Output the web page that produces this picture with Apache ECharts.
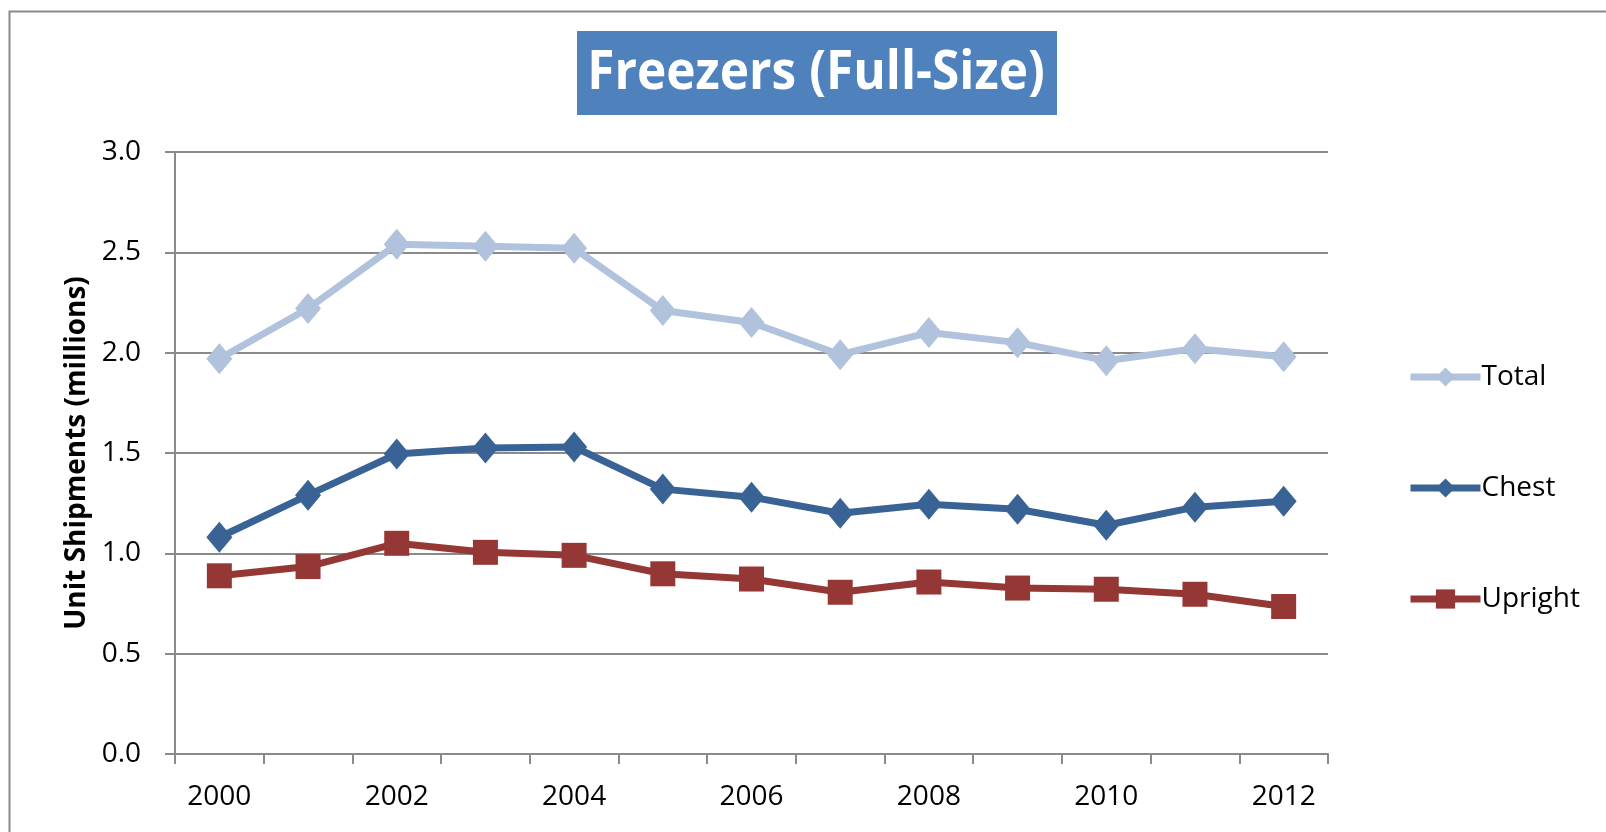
<!DOCTYPE html>
<html>
<head>
<meta charset="utf-8">
<script src="https://cdn.jsdelivr.net/npm/echarts@6/dist/echarts.min.js"></script>
<style>
  html, body { margin: 0; padding: 0; background: #fff; }
  #chart { width: 1606px; height: 832px; }
</style>
</head>
<body>
<div id="chart"></div>
<script>
// data (millions of units)
const years = ["2000", "2001", "2002", "2003", "2004", "2005", "2006",
  "2007", "2008", "2009", "2010", "2011", "2012"];
const total = [1.97, 2.22, 2.54, 2.53, 2.52, 2.21, 2.15, 1.99, 2.10, 2.05, 1.96, 2.02, 1.98];
const chest = [1.08, 1.29, 1.495, 1.525, 1.53, 1.32, 1.28, 1.20, 1.245, 1.22, 1.14, 1.23, 1.26];
const upright = [0.888, 0.934, 1.05, 1.005, 0.99, 0.898, 0.872, 0.806, 0.857, 0.827, 0.821, 0.796, 0.735];
const yTicks = [0, 0.5, 1.0, 1.5, 2.0, 2.5, 3.0];

const chart = echarts.init(document.getElementById("chart"));
const gray = "#8a8a8a";
const font = "'Open Sans', sans-serif";

const option = {
  animation: false,
  backgroundColor: "#fff",
  graphic: [
    {
      type: "rect",
      shape: { x: 9.5, y: 11.5, width: 1700, height: 900 },
      style: { fill: "none", stroke: gray, lineWidth: 2 },
      silent: true,
    },
    {
      type: "rect",
      shape: { x: 577, y: 31, width: 480, height: 84 },
      style: { fill: "#4f81bd" },
      silent: true,
    },
    {
      // chart title, squeezed a little to match the narrow original face
      type: "text",
      x: 816,
      y: 74,
      scaleX: 0.936,
      silent: true,
      style: {
        text: "Freezers (Full-Size)",
        x: 0,
        y: 0,
        align: "center",
        verticalAlign: "middle",
        fill: "#fff",
        font: "bold 53px 'Open Sans', sans-serif",
      },
    },
  ],
  legend: {
    orient: "vertical",
    left: 1402,
    top: 358,
    itemWidth: 70,
    itemHeight: 24,
    itemGap: 83,
    lineStyle: { width: 7 },
    textStyle: { fontFamily: font, fontSize: 28, color: "#000", padding: [0, 0, 0, -4] },
    data: ["Total", "Chest", "Upright"],
  },
  grid: { left: 175, right: 278, top: 152, bottom: 78 },
  xAxis: {
    type: "category",
    data: years,
    boundaryGap: true,
    axisLine: { lineStyle: { color: gray, width: 2 } },
    axisTick: { show: true, length: 10, interval: 0, lineStyle: { color: gray, width: 2 } },
    axisLabel: { interval: 1, margin: 29, fontFamily: font, fontSize: 28, color: "#000" },
  },
  yAxis: {
    type: "value",
    min: yTicks[0],
    max: yTicks[yTicks.length - 1],
    interval: 0.5,
    name: "Unit Shipments (millions)",
    nameLocation: "middle",
    nameRotate: 90,
    nameGap: 74,
    nameTextStyle: { fontFamily: font, fontWeight: "bold", fontSize: 28, color: "#000" },
    axisLine: { show: true, lineStyle: { color: gray, width: 2 } },
    axisTick: { show: true, length: 10, lineStyle: { color: gray, width: 2 } },
    axisLabel: {
      margin: 34,
      fontFamily: font,
      fontSize: 28,
      color: "#000",
      formatter: (v) => v.toFixed(1),
    },
    splitLine: { lineStyle: { color: gray, width: 2 } },
  },
  series: [
    {
      name: "Total",
      type: "line",
      data: total,
      symbol: "diamond",
      symbolSize: [26, 31],
      color: "#b1c2dd",
      lineStyle: { width: 7, color: "#b1c2dd" },
      itemStyle: { color: "#b1c2dd" },
    },
    {
      name: "Chest",
      type: "line",
      data: chest,
      symbol: "diamond",
      symbolSize: [26, 31],
      color: "#3a6395",
      lineStyle: { width: 7, color: "#3a6395" },
      itemStyle: { color: "#3a6395" },
    },
    {
      name: "Upright",
      type: "line",
      data: upright,
      symbol: "rect",
      symbolSize: 25,
      color: "#953735",
      lineStyle: { width: 7, color: "#953735" },
      itemStyle: { color: "#953735" },
    },
  ],
};

chart.setOption(option);
</script>
</body>
</html>
